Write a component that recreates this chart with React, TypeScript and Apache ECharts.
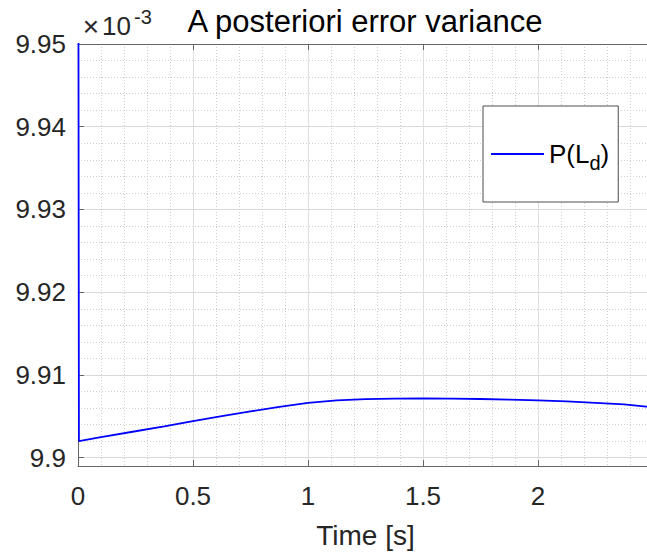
import React, { useEffect, useRef } from "react";
import * as echarts from "echarts";

// Time axis (s) and a posteriori error variance P(L_d) in units of 1e-3
const timeS = [
  0, 0.004, 0.1, 0.25, 0.375, 0.5, 0.625, 0.75, 0.875, 1.0, 1.125, 1.25, 1.375, 1.5,
  1.625, 1.75, 1.875, 2.0, 2.125, 2.25, 2.375, 2.47, 2.5,
];
const pLd = [
  10.0, 9.902, 9.9025, 9.9032, 9.9038, 9.90443, 9.90503, 9.9056, 9.90615, 9.90662, 9.90693,
  9.90708, 9.90714, 9.90716, 9.90714, 9.9071, 9.90703, 9.90694, 9.9068, 9.90664, 9.90645,
  9.90618, 9.9061,
];

const xMin = 0;
const xMax = 2.5;
const xLabelMax = 2.0;
const yMin = 9.899;
const yMax = 9.95;

const titleText = "A posteriori error variance";
const xAxisName = "Time [s]";
const seriesName = "P(L_d)";

const FONT = "'Liberation Sans', Arial, Helvetica, sans-serif";
const TXT = "#262626";
const AXIS = "#666666";

export default function App() {
  const ref = useRef<HTMLDivElement>(null);

  useEffect(() => {
    if (!ref.current) return;
    const chart = echarts.init(ref.current, null, { renderer: "svg" });
    const data = timeS.map((t, i) => [t, pLd[i]]);

    chart.setOption({
      animation: false,
      backgroundColor: "#ffffff",
      textStyle: { fontFamily: FONT },
      grid: {
        left: 78,
        top: 44,
        width: 575,
        bottom: 88,
        containLabel: false,
        outerBoundsMode: "none",
      },
      legend: {
        left: 483,
        top: 106,
        orient: "vertical",
        padding: [29, 9, 29, 8],
        backgroundColor: "#ffffff",
        borderColor: "#4d4d4d",
        borderWidth: 1,
        borderRadius: 0,
        itemWidth: 53,
        itemHeight: 2,
        icon: "rect",
        data: [seriesName],
        formatter: () => "{a|P(L}{b|d}{a|)}",
        textStyle: {
          color: "#000",
          fontFamily: FONT,
          rich: {
            a: { fontSize: 26, fontFamily: FONT, color: "#000", lineHeight: 30 },
            b: { fontSize: 20, fontFamily: FONT, color: "#000", lineHeight: 20, padding: [18, 0, 0, 0] },
          },
        },
      },
      xAxis: [
        {
          type: "value",
          min: xMin,
          max: xMax,
          interval: 0.5,
          name: xAxisName,
          nameLocation: "middle",
          nameGap: 55,
          nameTextStyle: { fontSize: 28, color: TXT, fontFamily: FONT },
          axisLine: { show: true, onZero: false, lineStyle: { color: AXIS, width: 1 } },
          axisTick: { show: true, inside: true, length: 6, lineStyle: { color: AXIS } },
          axisLabel: {
            fontSize: 26,
            color: TXT,
            fontFamily: FONT,
            margin: 17,
            formatter: (v: number) => (v <= xLabelMax + 1e-9 ? String(+v.toFixed(2)) : ""),
          },
          splitLine: { show: true, lineStyle: { color: "#dedede", width: 1 } },
          minorTick: { show: false, splitNumber: 5 },
          minorSplitLine: { show: true, lineStyle: { color: "#cfcfcf", width: 1, type: [1, 2] } },
        },
        {
          type: "value",
          position: "top",
          min: xMin,
          max: xMax,
          interval: 0.5,
          axisLine: { show: true, onZero: false, lineStyle: { color: AXIS, width: 1 } },
          axisTick: { show: true, inside: true, length: 6, lineStyle: { color: AXIS } },
          axisLabel: { show: false },
          splitLine: { show: false },
        },
      ],
      yAxis: [
        {
          type: "value",
          min: yMin,
          max: yMax,
          splitNumber: 5,
          axisLine: { show: true, onZero: false, lineStyle: { color: AXIS, width: 1 } },
          axisTick: { show: true, inside: true, length: 6, lineStyle: { color: AXIS } },
          axisLabel: {
            fontSize: 26,
            color: TXT,
            fontFamily: FONT,
            margin: 12,
            formatter: (v: number) =>
              Math.abs(v * 100 - Math.round(v * 100)) < 1e-6 ? String(+v.toFixed(2)) : "",
          },
          splitLine: { show: true, lineStyle: { color: "#dedede", width: 1 } },
        },
        {
          type: "value",
          position: "left",
          min: yMin,
          max: yMax,
          splitNumber: 25,
          axisLine: { show: false },
          axisTick: { show: false },
          axisLabel: { show: false },
          splitLine: { show: true, lineStyle: { color: "#cfcfcf", width: 1, type: [1, 2] } },
        },
      ],
      graphic: [
        {
          type: "text",
          x: 365,
          y: 21,
          style: {
            text: titleText,
            fontSize: 31,
            fontFamily: FONT,
            fill: "#000",
            align: "center",
            verticalAlign: "middle",
          },
        },
        {
          type: "text",
          x: 91,
          y: 26,
          style: { text: "×", fontSize: 28, fontFamily: FONT, fill: TXT, align: "center", verticalAlign: "middle" },
        },
        {
          type: "text",
          x: 102,
          y: 26,
          style: { text: "10", fontSize: 26, fontFamily: FONT, fill: TXT, align: "left", verticalAlign: "middle" },
        },
        {
          type: "text",
          x: 134,
          y: 17,
          style: { text: "-3", fontSize: 20, fontFamily: FONT, fill: TXT, align: "left", verticalAlign: "middle" },
        },
      ],
      series: [
        {
          name: seriesName,
          type: "line",
          xAxisIndex: 0,
          yAxisIndex: 0,
          data,
          symbol: "none",
          showSymbol: false,
          clip: true,
          color: "#0000ff",
          lineStyle: { color: "#0000ff", width: 1.8 },
        },
      ],
    });

    return () => chart.dispose();
  }, []);

  return (
    <div
      ref={ref}
      style={{ position: "fixed", left: 0, top: 0, width: 647, height: 554, background: "#fff" }}
    />
  );
}
